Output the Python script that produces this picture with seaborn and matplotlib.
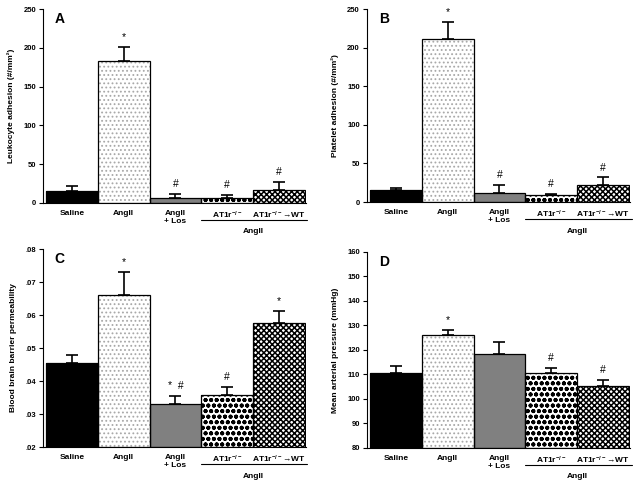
import matplotlib
matplotlib.use("Agg")
import matplotlib.pyplot as plt
import matplotlib.transforms as mtransforms
from matplotlib.ticker import FuncFormatter
import numpy as np
import pandas as pd
import seaborn as sns

sns.set_style("ticks")
plt.rcParams['font.family'] = ['Liberation Sans', 'DejaVu Sans']
plt.rcParams['mathtext.fontset'] = 'custom'
plt.rcParams['mathtext.rm'] = 'Liberation Sans:bold'
plt.rcParams['mathtext.bf'] = 'Liberation Sans:bold'
plt.rcParams['mathtext.default'] = 'rm'
for k in ['text.color', 'axes.labelcolor', 'xtick.color', 'ytick.color', 'axes.edgecolor']:
    plt.rcParams[k] = 'black'

groups = ["Saline", "AngII", "AngII\n+ Los", r"AT1r$^{-/-}$", r"AT1r$^{-/-}$→WT"]

leuko_mean = [15, 183, 6, 6, 17]
leuko_err = [7, 18, 6, 4, 10]
leuko_marks = ["", "*", "#", "#", "#"]

plate_mean = [15, 212, 12, 9, 22]
plate_err = [3, 22, 10, 2, 10]
plate_marks = ["", "*", "#", "#", "#"]

bbb_mean = [0.0455, 0.0662, 0.0329, 0.0358, 0.0575]
bbb_err = [0.0025, 0.0068, 0.0025, 0.0024, 0.0038]
bbb_marks = ["", "*", "*  #", "#", "*"]

map_mean = [110.5, 126.2, 118.3, 110.6, 105.2]
map_err = [2.8, 2.1, 5.0, 2.1, 2.6]
map_marks = ["", "*", "", "#", "#"]

face = ["black", "white", "#808080", "white", "white"]
hatch = [None, "....", None, "ooo", "xxxxxx"]
hatch_col = ["black", "#a8a8a8", "#808080", "black", "black"]
hatch_lw = [1.0, 0.8, 1.0, 1.3, 1.1]

panels = [
    dict(letter="A", mean=leuko_mean, err=leuko_err, marks=leuko_marks,
         ylabel="Leukocyte adhesion (#/mm²)", ylim=(0, 250), yticks=[0, 50, 100, 150, 200, 250],
         pos=[0.0675, 0.5806, 0.4125, 0.4004], fmt=None),
    dict(letter="B", mean=plate_mean, err=plate_err, marks=plate_marks,
         ylabel="Platelet adhesion (#/mm²)", ylim=(0, 250), yticks=[0, 50, 100, 150, 200, 250],
         pos=[0.576, 0.5826, 0.413, 0.3984], fmt=None),
    dict(letter="C", mean=bbb_mean, err=bbb_err, marks=bbb_marks,
         ylabel="Blood brain barrier permeability", ylim=(0.02, 0.08),
         yticks=[0.02, 0.03, 0.04, 0.05, 0.06, 0.07, 0.08],
         pos=[0.0675, 0.0764, 0.4125, 0.4091], fmt="lead"),
    dict(letter="D", mean=map_mean, err=map_err, marks=map_marks,
         ylabel="Mean arterial pressure (mmHg)", ylim=(80, 160),
         yticks=[80, 90, 100, 110, 120, 130, 140, 150, 160],
         pos=[0.576, 0.0744, 0.413, 0.4050], fmt=None),
]

fig = plt.figure(figsize=(6.37, 4.84), dpi=100)

for p in panels:
    ax = fig.add_axes(p["pos"])
    df = pd.DataFrame({"group": groups, "value": p["mean"]})
    sns.barplot(data=df, x="group", y="value", hue="group", order=groups, hue_order=groups,
                palette=face, width=1.0, errorbar=None, legend=False, ax=ax,
                linewidth=0, saturation=1)
    bars = sorted(ax.patches, key=lambda r: r.get_x())
    for i, r in enumerate(bars):
        r.set_facecolor(face[i])
        r.set_edgecolor(hatch_col[i])
        r.set_linewidth(0)
        if hatch[i]:
            r.set_hatch(hatch[i])
            try:
                r.set_hatch_linewidth(hatch_lw[i])
            except AttributeError:
                pass
    x = np.arange(len(groups))
    base = p["ylim"][0]
    heights = np.array(p["mean"]) - base
    ax.bar(x, heights, bottom=base, width=1.0, fill=False, edgecolor="black", linewidth=0.9, zorder=3)
    ax.errorbar(x, p["mean"], yerr=[np.zeros(len(x)), p["err"]], fmt="none",
                ecolor="black", elinewidth=1.2, capsize=4.3, capthick=1.2, zorder=2)
    span = p["ylim"][1] - p["ylim"][0]
    for xi, m, e, t in zip(x, p["mean"], p["err"], p["marks"]):
        if t:
            ax.text(xi, m + e + span * 0.025, t, ha="center", va="bottom", fontsize=7.5)
    ax.set_ylim(*p["ylim"])
    ax.set_xlim(-0.56, 4.52)
    ax.set_yticks(p["yticks"])
    if p["fmt"] == "lead":
        ax.yaxis.set_major_formatter(FuncFormatter(lambda v, _: f"{v:.2f}".lstrip("0")))
    ax.set_xlabel("")
    ax.set_ylabel(p["ylabel"], fontsize=6, fontweight="bold", labelpad=6)
    ax.tick_params(axis="y", labelsize=5.5, length=3, width=0.8, pad=2)
    ax.tick_params(axis="x", length=0, pad=5, labelsize=6)
    for lab in ax.get_yticklabels():
        lab.set_fontweight("bold")
    for lab in ax.get_xticklabels():
        lab.set_fontweight("bold")
    sns.despine(ax=ax)
    for s in ["left", "bottom"]:
        ax.spines[s].set_linewidth(0.8)
    ax.text(0.045, 0.985, p["letter"], transform=ax.transAxes, fontsize=10,
            fontweight="bold", ha="left", va="top")
    # group bracket under AT1r bars
    tr = mtransforms.blended_transform_factory(ax.transData, ax.transAxes)
    tr_line = mtransforms.offset_copy(tr, fig=fig, y=-17, units="dots")
    ax.plot([2.5, 4.55], [0, 0], color="black", lw=0.8, transform=tr_line, clip_on=False)
    tr_txt = mtransforms.offset_copy(tr, fig=fig, y=-29, units="dots")
    ax.text(3.5, 0, "AngII", transform=tr_txt, ha="center", va="center",
            fontsize=6, fontweight="bold")

fig.savefig("out.png", dpi=100)
